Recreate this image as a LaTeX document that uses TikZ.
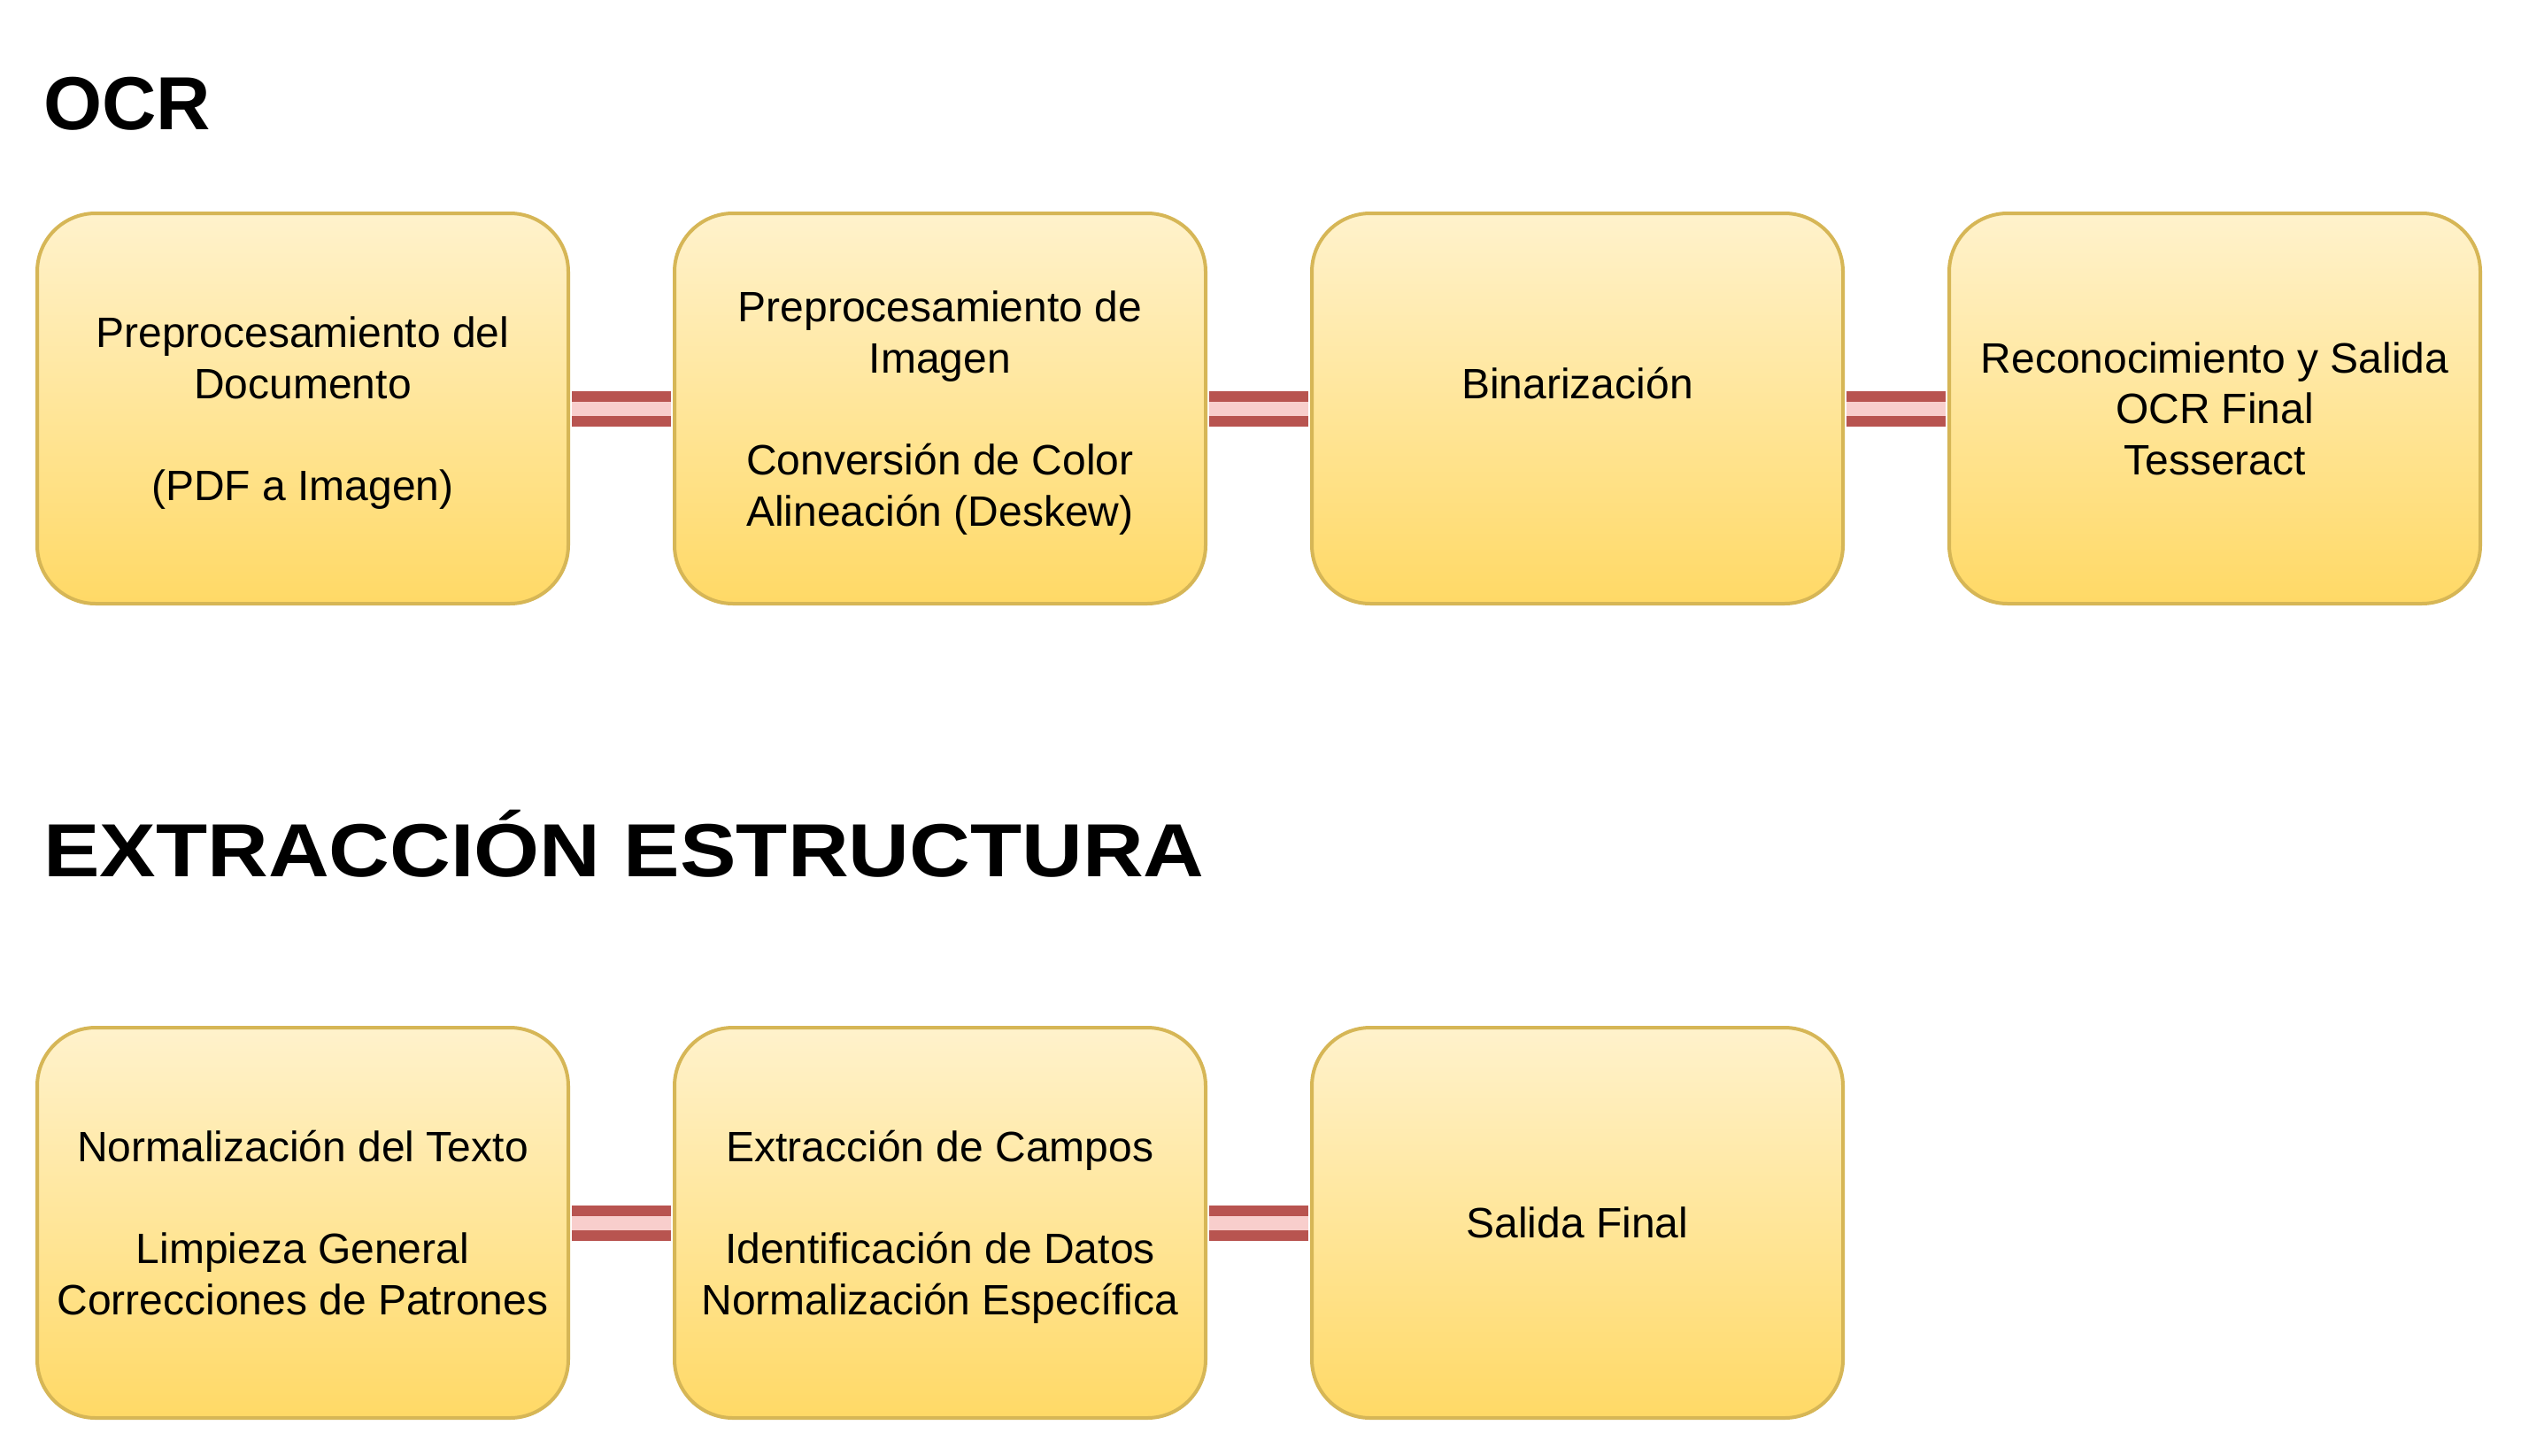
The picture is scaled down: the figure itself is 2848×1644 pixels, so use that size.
\documentclass[tikz,border=0pt]{standalone}
\usepackage{fontspec}
\setmainfont{Liberation Sans}
\usepackage{graphicx}
\definecolor{boxtop}{HTML}{FFF2CC}
\definecolor{boxbot}{HTML}{FFD966}
\definecolor{boxline}{HTML}{D6B656}
\definecolor{linkdark}{HTML}{B85450}
\definecolor{linklight}{HTML}{F8CECC}
\tikzset{
  stepbox/.style={draw=boxline, line width=4pt, top color=boxtop, bottom color=boxbot,
    rounded corners=66pt, minimum width=600pt, minimum height=441pt, inner sep=0pt,
    align=center, font=\fontsize{48}{57.6}\selectfont, text=black},
  titletext/.style={anchor=base west, inner sep=0pt, font=\fontsize{85}{100}\selectfont\bfseries},
  linkouter/.style={draw=linkdark, line width=40pt, shorten <=2pt, shorten >=2pt},
  linkinner/.style={draw=linklight, line width=16pt, shorten <=2pt, shorten >=2pt}
}
\begin{document}
\begin{tikzpicture}[x=1pt, y=-1pt]
\useasboundingbox[fill=white] (0,0) rectangle (2848,1644);
\node[titletext] (t1) at (49,146) {OCR};
\node[titletext] (t2) at (49,990) {\scalebox{1.12}[1]{EXTRACCIÓN ESTRUCTURA}};

\node[stepbox] (b1) at (342,461.5) {Preprocesamiento del\\Documento\\~\\\smash{(PDF a Imagen)}};
\node[stepbox] (b2) at (1062,461.5) {Preprocesamiento de\\Imagen\\~\\Conversión de Color\\\smash{Alineación (Deskew)}};
\node[stepbox] (b3) at (1782,461.5) {Binarización\\~};
\node[stepbox] (b4) at (2502,461.5) {Reconocimiento y Salida\\OCR Final\\Tesseract};

\node[stepbox] (b5) at (342,1381.5) {Normalización del Texto\\~\\Limpieza General\\Correcciones de Patrones};
\node[stepbox] (b6) at (1062,1381.5) {Extracción de Campos\\~\\Identificación de Datos\\\smash{Normalización Específica}};
\node[stepbox] (b7) at (1782,1381.5) {Salida Final};

\foreach \a/\b in {b1/b2, b2/b3, b3/b4, b5/b6, b6/b7}{
  \draw[linkouter] (\a.east) -- (\b.west);
  \draw[linkinner] (\a.east) -- (\b.west);
}
\end{tikzpicture}
\end{document}
